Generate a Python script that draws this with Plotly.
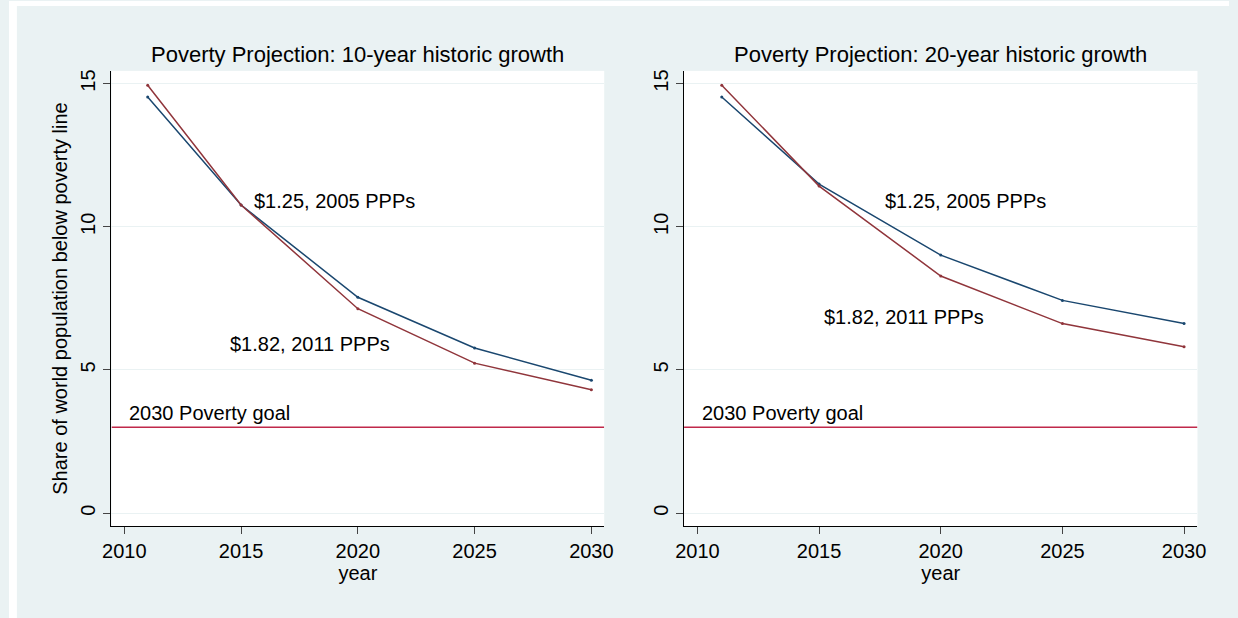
import plotly.graph_objects as go

years = [2011, 2015, 2020, 2025, 2030]
ppp2005_10yr = [14.53, 10.76, 7.54, 5.77, 4.64]
ppp2011_10yr = [14.94, 10.76, 7.14, 5.24, 4.31]
ppp2005_20yr = [14.53, 11.49, 9.01, 7.43, 6.62]
ppp2011_20yr = [14.94, 11.42, 8.28, 6.62, 5.81]
goal = 3
titles = ["Poverty Projection: 10-year historic growth", "Poverty Projection: 20-year historic growth"]

navy = "#1a476f"
maroon = "#90353b"
goal_col = "#c0294a"
font = "Liberation Sans, Arial, sans-serif"
xrange_ = [2009.45, 2030.55]
doms = [[104 / 1238, 604 / 1238], [685 / 1238, 1206 / 1238]]

fig = go.Figure()
panels = [("x", "y", ppp2005_10yr, ppp2011_10yr), ("x2", "y2", ppp2005_20yr, ppp2011_20yr)]
for xa, ya, blue, red in panels:
    fig.add_trace(go.Scatter(x=xrange_, y=[goal, goal], mode="lines", line=dict(color=goal_col, width=1.5),
                             xaxis=xa, yaxis=ya, showlegend=False))
    fig.add_trace(go.Scatter(x=years, y=blue, mode="lines+markers", line=dict(color=navy, width=1.5),
                             marker=dict(size=3, color=navy), xaxis=xa, yaxis=ya, showlegend=False))
    fig.add_trace(go.Scatter(x=years, y=red, mode="lines+markers", line=dict(color=maroon, width=1.5),
                             marker=dict(size=3, color=maroon), xaxis=xa, yaxis=ya, showlegend=False))

ax = dict(range=xrange_, tickvals=[2010, 2015, 2020, 2025, 2030], ticks="outside", ticklen=7,
          showline=True, linecolor="black", linewidth=1, showgrid=False, zeroline=False,
          tickfont=dict(size=20, color="black"), title=dict(text="year", font=dict(size=20, color="black"), standoff=0))
ay = dict(range=[-0.45, 15.44], tickvals=[0, 5, 10, 15], ticks="outside", ticklen=7, tickangle=-90,
          showline=True, linecolor="black", linewidth=1, showgrid=True, gridcolor="#eaf2f3", zeroline=False,
          tickfont=dict(size=20, color="black"))

fig.update_layout(
    width=1238, height=618, paper_bgcolor="#eaf2f3", plot_bgcolor="white",
    margin=dict(l=0, r=0, t=0, b=0), font=dict(family=font, color="black"),
    xaxis=dict(ax, domain=doms[0], anchor="y"),
    xaxis2=dict(ax, domain=doms[1], anchor="y2"),
    yaxis=dict(ay, domain=[1 - 526 / 618, 1 - 70 / 618], anchor="x",
               title=dict(text="Share of world population below poverty line", font=dict(size=20, color="black"), standoff=4)),
    yaxis2=dict(ay, domain=[1 - 526 / 618, 1 - 70 / 618], anchor="x2"),
    shapes=[
        dict(type="rect", xref="paper", yref="paper", x0=0, x1=8 / 1238, y0=0, y1=1,
             fillcolor="white", line=dict(width=0)),
        dict(type="rect", xref="paper", yref="paper", x0=0, x1=1, y0=1 - 5 / 618, y1=1,
             fillcolor="white", line=dict(width=0)),
    ],
)

ann = []
for i, (xr, yr) in enumerate([("x", "y"), ("x2", "y2")]):
    ann.append(dict(text=titles[i], xref="paper", yref="paper", x=(doms[i][0] + doms[i][1]) / 2, y=1 - 54 / 618,
                    xanchor="center", yanchor="middle", showarrow=False, font=dict(size=22)))
    ann.append(dict(text="2030 Poverty goal", xref=xr, yref=yr, x=2010.1, y=3.5, xanchor="left",
                    showarrow=False, font=dict(size=20)))
ann += [
    dict(text="$1.25, 2005 PPPs", xref="x", yref="y", x=2015.45, y=10.91, xanchor="left", showarrow=False, font=dict(size=20)),
    dict(text="$1.82, 2011 PPPs", xref="x", yref="y", x=2014.45, y=5.92, xanchor="left", showarrow=False, font=dict(size=20)),
    dict(text="$1.25, 2005 PPPs", xref="x2", yref="y2", x=2017.63, y=10.91, xanchor="left", showarrow=False, font=dict(size=20)),
    dict(text="$1.82, 2011 PPPs", xref="x2", yref="y2", x=2015.1, y=6.85, xanchor="left", showarrow=False, font=dict(size=20)),
]
fig.update_layout(annotations=ann)
fig.write_html("out.html", config={"displayModeBar": False}, post_script="document.body.style.margin='0';")
